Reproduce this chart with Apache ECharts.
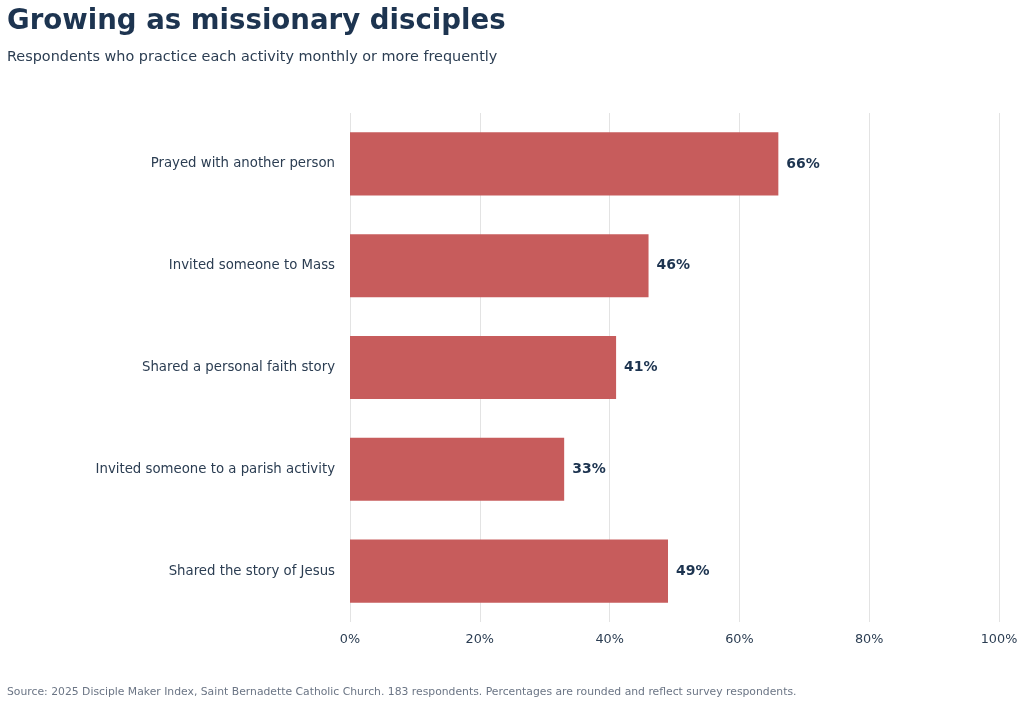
<!DOCTYPE html>
<html>
<head>
<meta charset="utf-8">
<script src="https://cdn.jsdelivr.net/npm/echarts@6/dist/echarts.min.js"></script>
<style>
  html, body { margin: 0; padding: 0; background: #fff; }
  #chart { width: 1024px; height: 706px; }
</style>
</head>
<body>
<div id="chart"></div>
<script>
// activities, top to bottom as in the picture
var activities = [
    'Prayed with another person',
    'Invited someone to Mass',
    'Shared a personal faith story',
    'Invited someone to a parish activity',
    'Shared the story of Jesus'
];
var percents = [66, 46, 41, 33, 49];
var xTicks = [0, 20, 40, 60, 80, 100];

var font = 'DejaVu Sans';
var navy = '#1d3450';

var myChart = echarts.init(document.getElementById('chart'));
myChart.setOption({
    animation: false,
    backgroundColor: '#fff',
    textStyle: { fontFamily: font },
    title: [{
        text: 'Growing as missionary disciples',
        left: 2, top: 3,
        textStyle: { fontFamily: font, fontSize: 27.6, fontWeight: 'bold', color: navy }
    }, {
        text: 'Respondents who practice each activity monthly or more frequently',
        left: 2, top: 45,
        textStyle: { fontFamily: font, fontSize: 14.4, fontWeight: 'normal', color: '#2b3d52' }
    }, {
        text: 'Source: 2025 Disciple Maker Index, Saint Bernadette Catholic Church. 183 respondents. Percentages are rounded and reflect survey respondents.',
        left: 2, top: 682,
        textStyle: { fontFamily: font, fontSize: 10.8, fontWeight: 'normal', color: '#6b7585' }
    }],
    grid: { left: 350, right: 25, top: 113, bottom: 84 },
    xAxis: {
        type: 'value',
        min: xTicks[0], max: xTicks[xTicks.length - 1], interval: 20,
        axisLine: { show: false },
        axisTick: { show: false },
        axisLabel: { formatter: '{value}%', color: '#2b3d52', fontSize: 12.8, margin: 11 },
        splitLine: { lineStyle: { color: '#e3e3e3' } }
    },
    yAxis: {
        type: 'category',
        data: activities,
        inverse: true,
        axisLine: { show: false },
        axisTick: { show: false },
        axisLabel: { color: '#2b3d52', fontSize: 13.3, margin: 15 }
    },
    series: [{
        type: 'bar',
        data: percents,
        barWidth: '62%',
        itemStyle: { color: '#c75c5c' },
        label: {
            show: true, position: 'right', distance: 8,
            formatter: '{c}%',
            color: navy, fontSize: 14, fontWeight: 'bold'
        }
    }]
});
</script>
</body>
</html>
